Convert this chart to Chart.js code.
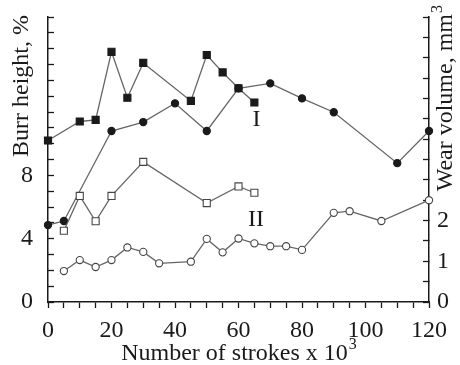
<!DOCTYPE html>
<html>
<head>
<meta charset="utf-8">
<script src="https://cdn.jsdelivr.net/npm/chart.js@4"></script>
<style>
  html, body { margin: 0; padding: 0; background: #fff; }
  #wrap { width: 460px; height: 365px; }
</style>
</head>
<body>
<div id="wrap"><canvas id="c" width="460" height="365"></canvas></div>
<script>
// strokes x 10^3
const sqFilledX = [0, 10, 15, 20, 25, 30, 45, 50, 55, 60, 65];
const sqFilledY = [10.2, 11.4, 11.5, 15.8, 12.9, 15.1, 12.7, 15.6, 14.5, 13.5, 12.6];

const sqOpenX = [5, 10, 15, 20, 30, 50, 60, 65];
const sqOpenY = [4.5, 6.7, 5.1, 6.7, 8.85, 6.25, 7.3, 6.9];

// wear volume, right axis
const ciFilledX = [0, 5, 20, 30, 40, 50, 60, 70, 80, 90, 110, 120];
const ciFilledY = [1.89, 1.99, 4.2, 4.42, 4.88, 4.2, 5.25, 5.37, 5.0, 4.66, 3.41, 4.2];

const ciOpenX = [5, 10, 15, 20, 25, 30, 35, 45, 50, 55, 60, 65, 70, 75, 80, 90, 95, 105, 120];
const ciOpenY = [0.76, 1.03, 0.86, 1.03, 1.34, 1.23, 0.95, 0.99, 1.55, 1.22, 1.56, 1.44, 1.37, 1.37, 1.28, 2.19, 2.23, 1.99, 2.5];

const leftLabels = [0, 4, 8];
const rightLabels = [0, 1, 2];
const xLabels = [0, 20, 40, 60, 80, 100, 120];

const serif = "'Liberation Serif', 'DejaVu Serif', serif";
const lineCol = '#666';
const ink = '#1a1a1a';

function pts(xs, ys){
    return xs.map((x, i) => ({x: x, y: ys[i]}));
}

function series(xs, ys, axis, style, filled){
    return {
        data: pts(xs, ys),
        yAxisID: axis,
        borderColor: lineCol,
        borderWidth: 1.3,
        pointStyle: style,
        pointRadius: style === 'rect' ? 5 : 3.6,
        pointBackgroundColor: filled ? ink : '#fff',
        pointBorderColor: filled ? ink : '#444',
        pointBorderWidth: 1.1,
        tension: 0,
        clip: false
    };
}

// no extra label padding on the vertical axes
function fitY(w){
    return function(s){
        s.width = w;
        s.paddingTop = 0;
        s.paddingBottom = 0;
    };
}

// axis titles and the I / II markers
const extras = {
    id: 'extras',
    afterDraw(chart){
        const ctx = chart.ctx;
        const xs = chart.scales.x, yl = chart.scales.yL;
        ctx.save();
        ctx.fillStyle = ink;
        ctx.textBaseline = 'middle';

        // left title, top aligned
        ctx.save();
        ctx.translate(22, 15);
        ctx.rotate(-Math.PI/2);
        ctx.textAlign = 'right';
        ctx.font = "24px " + serif;
        ctx.fillText('Burr height, %', 0, 0);
        ctx.restore();

        // right title, top aligned, with superscript
        ctx.save();
        ctx.translate(446, 5);
        ctx.rotate(-Math.PI/2);
        ctx.font = "16px " + serif;
        ctx.textAlign = 'right';
        ctx.fillText('3', 0, -8);
        let w3 = ctx.measureText('3').width;
        ctx.font = "24px " + serif;
        ctx.fillText('Wear volume, mm', -w3 - 1, 0);
        ctx.restore();

        // x title
        ctx.textAlign = 'left';
        let main = 'Number of strokes x 10';
        ctx.font = "24px " + serif;
        let wm = ctx.measureText(main).width;
        ctx.font = "16px " + serif;
        let ws = ctx.measureText('3').width;
        let x0 = (chart.chartArea.left + chart.chartArea.right)/2 - (wm + ws)/2;
        ctx.font = "24px " + serif;
        ctx.fillText(main, x0, 354);
        ctx.font = "16px " + serif;
        ctx.fillText('3', x0 + wm + 1, 345);

        // curve labels
        ctx.font = "24px " + serif;
        ctx.textAlign = 'center';
        ctx.fillText('I', xs.getPixelForValue(65.7), yl.getPixelForValue(11.5));
        ctx.fillText('II', xs.getPixelForValue(65.5), yl.getPixelForValue(5.2));
        ctx.restore();
    }
};

new Chart(document.getElementById('c'), {
    type: 'line',
    data: {
        datasets: [
            series(sqFilledX, sqFilledY, 'yL', 'rect', true),
            series(sqOpenX, sqOpenY, 'yL', 'rect', false),
            series(ciFilledX, ciFilledY, 'yR', 'circle', true),
            series(ciOpenX, ciOpenY, 'yR', 'circle', false)
        ]
    },
    options: {
        responsive: false,
        animation: false,
        layout: { padding: { top: 17, left: 0, right: 0, bottom: 0 } },
        plugins: { legend: { display: false }, tooltip: { enabled: false } },
        scales: {
            x: {
                type: 'linear',
                min: 0, max: 120,
                afterFit(s){ s.height = 63; s.paddingLeft = 0; s.paddingRight = 0; },
                grid: { drawOnChartArea: false, tickLength: 6, color: ink, tickWidth: 1.3 },
                border: { color: ink, width: 1.5 },
                ticks: {
                    stepSize: 5, autoSkip: false, maxRotation: 0, padding: 8,
                    color: ink, font: { family: serif, size: 24 },
                    callback: v => xLabels.includes(v) ? String(v) : ''
                }
            },
            yL: {
                position: 'left',
                min: 0, max: 18,
                afterFit: fitY(48),
                grid: { drawOnChartArea: false, tickLength: -6, color: ink, tickWidth: 1.3 },
                border: { color: ink, width: 1.5 },
                ticks: {
                    stepSize: 1, autoSkip: false, padding: 21,
                    color: ink, font: { family: serif, size: 24 },
                    callback: v => leftLabels.includes(v) ? String(v) : ''
                }
            },
            yR: {
                position: 'right',
                min: 0, max: 7,
                afterFit: fitY(31),
                grid: { drawOnChartArea: false, tickLength: -6, color: ink, tickWidth: 1.3 },
                border: { color: ink, width: 1.5 },
                ticks: {
                    stepSize: 0.5, autoSkip: false, padding: 14,
                    color: ink, font: { family: serif, size: 24 },
                    callback: v => rightLabels.includes(v) ? String(v) : ''
                }
            }
        }
    },
    plugins: [extras]
});
</script>
</body>
</html>
